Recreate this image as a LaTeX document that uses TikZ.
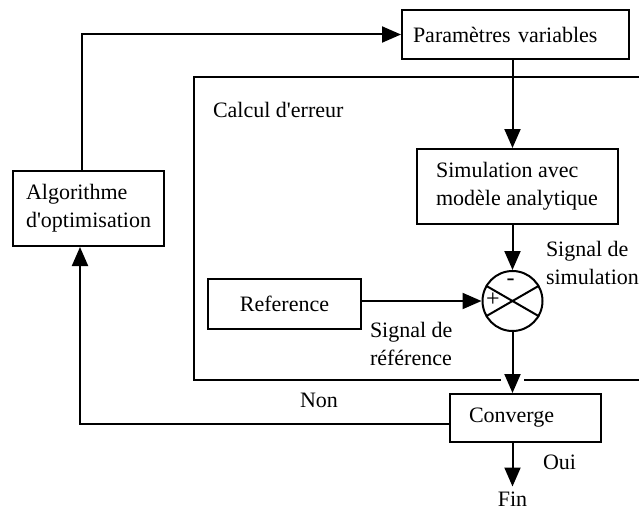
\documentclass[tikz,border=0pt]{standalone}
\usepackage{fontspec}
\setmainfont{Liberation Serif}
\usetikzlibrary{arrows.meta}
\begin{document}
\begin{tikzpicture}[x=1pt,y=-1pt,
  line width=2pt,
  every node/.style={font=\fontsize{22}{28}\selectfont},
  box/.style={draw, line width=2pt, minimum height=#1, inner ysep=0pt},
  arr/.style={-{Triangle[length=19pt,width=16pt]}},
  lbl/.style={inner sep=0pt, anchor=west, align=left},
  sgn/.style={inner sep=0pt, font=\fontsize{24}{24}\selectfont},
]
\useasboundingbox (0,0) rectangle (639,511);
% frame "Calcul d'erreur"
\coordinate (fTR) at (660,77);
\coordinate (fTL) at (194,77);
\coordinate (fBL) at (194,380);
\coordinate (fG1) at (501,380);
\coordinate (fG2) at (524,380);
\coordinate (fBR) at (660,380);
\draw (fTR) -- (fTL) -- (fBL) -- (fG1);
\draw (fG2) -- (fBR);
\node[lbl] (calc) at (212,110) {Calcul d\textquotesingle erreur};

% boxes
\node[box=49, inner xsep=11pt, text width=205pt, align=left] (param) at (515.5,34.5) {Paramètres variables};
\node[box=75, minimum width=201pt, align=left] (sim) at (517,186.5) {Simulation avec\\modèle analytique};
\node[box=75, minimum width=151pt, align=left] (algo) at (88.5,208.5) {Algorithme\\d\textquotesingle optimisation};
\node[box=50, minimum width=153pt] (ref) at (284.5,304) {Reference};
\node[box=48, inner xsep=19pt, text width=113pt, align=left] (conv) at (525.5,418) {Converge};
\node[draw, circle, minimum size=60pt, inner sep=0pt] (sum) at (512.5,301) {};
\draw (sum.150) -- (sum.-30);
\draw (sum.30) -- (sum.210);
\node[sgn] (minus) at (510.5,282) {-};
\node[sgn] (plus) at (493,300) {+};
\node[inner sep=0pt, text height=15pt, text depth=0pt] (fin) at (512.5,499) {Fin};

% connectors
\draw[arr] ([xshift=-6.5pt]algo.north) |- (param.west);
\draw[arr] (param.south -| sum) -- (sim.north -| sum);
\draw[arr] (sim.south -| sum) -- (sum.north);
\draw[arr] (ref.east |- sum) -- (sum.west);
\draw[arr] (sum.south) -- (conv.north -| sum);
\draw[arr] ([yshift=-6pt]conv.west) -| ([xshift=-8.5pt]algo.south);
\draw[arr, shorten >=4pt] (conv.south -| sum) -- (fin.north);

% labels
\node[lbl] (sigsim) at (545,263) {Signal de\\simulation};
\node[lbl] (sigref) at (369,343.5) {Signal de\\référence};
\node[inner sep=0pt] (non) at (319,400) {Non};
\node[lbl] (oui) at (542,462) {Oui};
\end{tikzpicture}
\end{document}
